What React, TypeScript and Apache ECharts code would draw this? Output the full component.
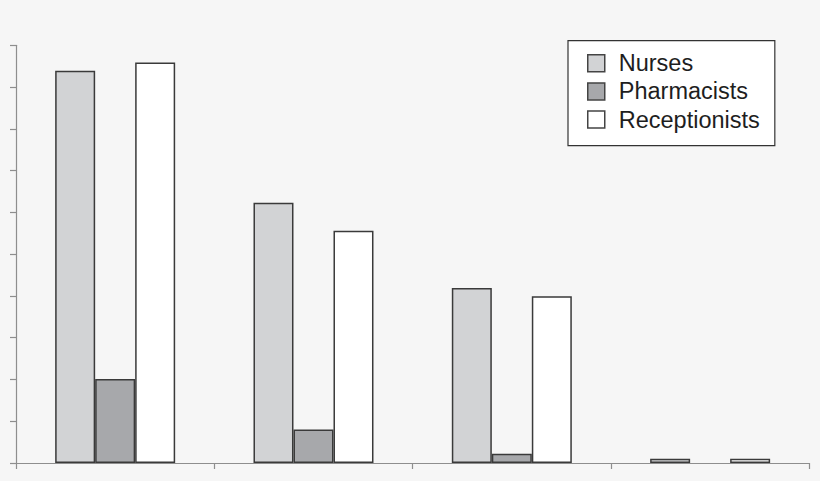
import React, { useEffect, useRef } from "react";
import * as echarts from "echarts";

const categories = ["Group 1", "Group 2", "Group 3", "Group 4"];
const nurses = [9.39, 6.23, 4.19, 0.1];
const pharmacists = [2.01, 0.8, 0.22, 0];
const receptionists = [9.59, 5.56, 3.99, 0.1];
const yMin = 0;
const yMax = 10;
const yInterval = 1;

const FONT = "'Liberation Sans', Arial, Helvetica, sans-serif";
const BORDER = "#3a3a3a";

export default function App() {
  const ref = useRef<HTMLDivElement>(null);
  useEffect(() => {
    if (!ref.current) return;
    const chart = echarts.init(ref.current, undefined, { renderer: "svg" });
    const mk = (name: string, data: number[], color: string) => ({
      name,
      type: "bar",
      data: data.map((v) => (v === 0 ? "-" : v)),
      barWidth: 40,
      barGap: "0%",
      itemStyle: { color, borderColor: BORDER, borderWidth: 1.5 },
    });
    chart.setOption({
      animation: false,
      backgroundColor: "#f6f6f6",
      grid: { left: 16, right: 10.7, top: 45.3, bottom: 18 },
      legend: {
        orient: "vertical",
        left: 568,
        top: 40.7,
        padding: [10.5, 15, 14, 19],
        itemWidth: 17,
        itemHeight: 17,
        itemGap: 4.2,
        icon: "rect",
        backgroundColor: "#ffffff",
        borderColor: "#333333",
        borderWidth: 1.2,
        itemStyle: { borderColor: "#444444", borderWidth: 1.5 },
        textStyle: {
          fontFamily: FONT,
          fontSize: 23.5,
          color: "#1e1e1e",
          padding: [0, 0, 0, 9],
        },
        data: ["Nurses", "Pharmacists", "Receptionists"],
      },
      xAxis: {
        type: "category",
        data: categories,
        boundaryGap: true,
        axisLine: { show: true, lineStyle: { color: "#8e8e8e", width: 1.2 } },
        axisTick: { show: true, length: 6, alignWithLabel: false, lineStyle: { color: "#8e8e8e", width: 1.2 } },
        axisLabel: { show: false },
        splitLine: { show: false },
      },
      yAxis: {
        type: "value",
        min: yMin,
        max: yMax,
        interval: yInterval,
        axisLine: { show: true, lineStyle: { color: "#8e8e8e", width: 1.2 } },
        axisTick: { show: true, length: 6, lineStyle: { color: "#8e8e8e", width: 1.2 } },
        axisLabel: { show: false },
        splitLine: { show: false },
      },
      series: [
        mk("Nurses", nurses, "#d2d3d5"),
        mk("Pharmacists", pharmacists, "#a7a8ab"),
        mk("Receptionists", receptionists, "#ffffff"),
      ],
    });
    return () => chart.dispose();
  }, []);
  return (
    <div
      ref={ref}
      style={{ position: "absolute", left: 0, top: 0, width: 820, height: 481 }}
    />
  );
}
